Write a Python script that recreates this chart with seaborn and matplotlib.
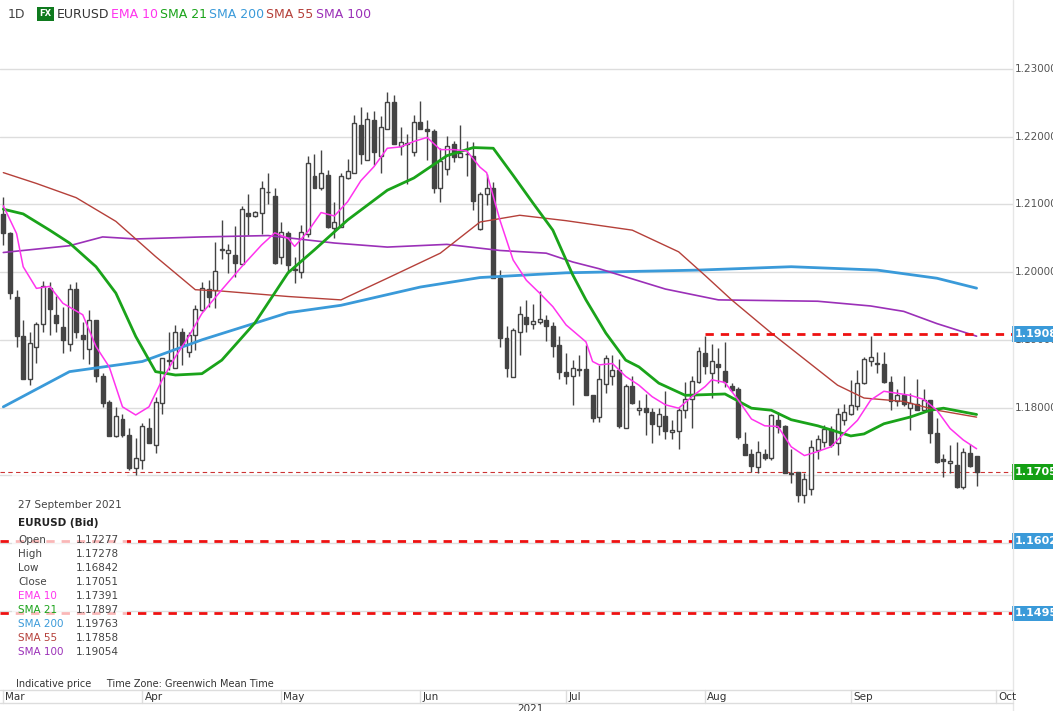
import numpy as np
import pandas as pd
import matplotlib
matplotlib.use("Agg")
import matplotlib.pyplot as plt
import seaborn as sns

# velas diarias EURUSD (mar-sep 2021)
abre = [1.2086,1.2058,1.1963,1.1906,1.1842,1.1889,1.1924,1.1977,1.1937,1.1919,
        1.1894,1.1975,1.1907,1.1886,1.1929,1.1846,1.1808,1.1758,1.1783,1.1759,
        1.1710,1.1723,1.1769,1.1745,1.1806,1.1868,1.1858,1.1912,1.1882,1.1907,
        1.1944,1.1975,1.1974,1.2033,1.2028,1.2025,1.2012,1.2087,1.2083,1.2087,
        1.2119,1.2112,1.2023,1.2058,1.2004,1.2000,1.2057,1.2142,1.2125,1.2143,
        1.2065,1.2067,1.2139,1.2146,1.2218,1.2166,1.2225,1.2171,1.2211,1.2251,
        1.2186,1.2190,1.2177,1.2222,1.2211,1.2209,1.2124,1.2153,1.2189,1.2170,
        1.2175,1.2171,1.2063,1.2116,1.2124,1.1991,1.1902,1.1845,1.1912,1.1933,
        1.1923,1.1927,1.1929,1.1920,1.1892,1.1852,1.1846,1.1857,1.1857,1.1819,
        1.1786,1.1835,1.1847,1.1856,1.1769,1.1832,1.1797,1.1799,1.1793,1.1773,
        1.1787,1.1764,1.1765,1.1797,1.1812,1.1838,1.1881,1.1851,1.1864,1.1854,
        1.1832,1.1827,1.1746,1.1731,1.1712,1.1732,1.1725,1.1781,1.1773,1.1703,
        1.1705,1.1671,1.1679,1.1737,1.1749,1.1768,1.1747,1.1782,1.1791,1.1802,
        1.1836,1.1869,1.1866,1.1865,1.1838,1.1809,1.1818,1.1799,1.1805,1.1797,
        1.1811,1.1762,1.1724,1.1718,1.1715,1.1682,1.1733,1.1728]
maximo = [1.2111,1.2060,1.1974,1.1929,1.1912,1.1927,1.1987,1.1986,1.1964,1.1949,
          1.1982,1.1986,1.1927,1.1944,1.1930,1.1851,1.1811,1.1801,1.1790,1.1769,
          1.1755,1.1777,1.1784,1.1815,1.1873,1.1912,1.1922,1.1917,1.1912,1.1952,
          1.1985,1.1989,1.2045,1.2077,1.2041,1.2068,1.2098,1.2115,1.2091,1.2134,
          1.2147,1.2124,1.2074,1.2061,1.2023,1.2070,1.2171,1.2175,1.2180,1.2151,
          1.2103,1.2146,1.2167,1.2232,1.2244,1.2237,1.2238,1.2230,1.2266,1.2262,
          1.2215,1.2204,1.2232,1.2253,1.2225,1.2212,1.2184,1.2201,1.2193,1.2217,
          1.2194,1.2192,1.2119,1.2145,1.2133,1.2003,1.1920,1.1917,1.1950,1.1959,
          1.1953,1.1972,1.1937,1.1926,1.1906,1.1880,1.1870,1.1878,1.1892,1.1819,
          1.1863,1.1878,1.1878,1.1871,1.1835,1.1846,1.1811,1.1820,1.1800,1.1800,
          1.1825,1.1782,1.1799,1.1838,1.1847,1.1890,1.1906,1.1894,1.1888,1.1897,
          1.1836,1.1831,1.1764,1.1738,1.1751,1.1738,1.1791,1.1794,1.1774,1.1738,
          1.1705,1.1703,1.1752,1.1760,1.1774,1.1773,1.1799,1.1805,1.1841,1.1855,
          1.1875,1.1906,1.1882,1.1882,1.1847,1.1827,1.1847,1.1822,1.1842,1.1828,
          1.1811,1.1784,1.1731,1.1745,1.1749,1.1740,1.1746,1.1728]
minimo = [1.2040,1.1960,1.1890,1.1842,1.1833,1.1866,1.1912,1.1907,1.1912,1.1880,
          1.1883,1.1902,1.1871,1.1865,1.1838,1.1801,1.1758,1.1757,1.1757,1.1708,
          1.1700,1.1709,1.1748,1.1733,1.1791,1.1855,1.1858,1.1863,1.1875,1.1885,
          1.1943,1.1949,1.1947,1.2020,1.1998,1.1993,1.2012,1.2055,1.2082,1.2057,
          1.2101,1.2012,1.2012,1.1998,1.1984,1.1991,1.2052,1.2124,1.2122,1.2065,
          1.2050,1.2067,1.2137,1.2146,1.2160,1.2165,1.2158,1.2146,1.2211,1.2190,
          1.2173,1.2130,1.2171,1.2211,1.2166,1.2117,1.2103,1.2143,1.2163,1.2170,
          1.2142,1.2092,1.2062,1.2099,1.1992,1.1889,1.1845,1.1845,1.1878,1.1912,
          1.1916,1.1924,1.1898,1.1875,1.1842,1.1835,1.1804,1.1846,1.1818,1.1778,
          1.1779,1.1821,1.1833,1.1769,1.1769,1.1805,1.1789,1.1760,1.1748,1.1760,
          1.1754,1.1754,1.1738,1.1784,1.1769,1.1836,1.1850,1.1814,1.1836,1.1830,
          1.1823,1.1754,1.1730,1.1705,1.1703,1.1722,1.1723,1.1762,1.1703,1.1688,
          1.1661,1.1659,1.1671,1.1724,1.1742,1.1742,1.1730,1.1774,1.1789,1.1796,
          1.1835,1.1862,1.1851,1.1836,1.1797,1.1802,1.1802,1.1767,1.1796,1.1796,
          1.1747,1.1718,1.1697,1.1703,1.1681,1.1679,1.1712,1.1684]
cierre = [1.2058,1.1969,1.1905,1.1842,1.1896,1.1924,1.1980,1.1946,1.1925,1.1900,
          1.1975,1.1911,1.1901,1.1929,1.1847,1.1806,1.1758,1.1788,1.1759,1.1710,
          1.1725,1.1773,1.1748,1.1808,1.1873,1.1870,1.1912,1.1892,1.1907,1.1945,
          1.1976,1.1963,1.2001,1.2034,1.2032,1.2013,1.2093,1.2083,1.2089,1.2124,
          1.2118,1.2013,1.2060,1.2010,1.2003,1.2060,1.2161,1.2125,1.2146,1.2067,
          1.2074,1.2142,1.2149,1.2221,1.2174,1.2226,1.2178,1.2214,1.2251,1.2190,
          1.2192,1.2190,1.2222,1.2212,1.2208,1.2125,1.2164,1.2187,1.2170,1.2176,
          1.2174,1.2105,1.2116,1.2124,1.1992,1.1902,1.1858,1.1915,1.1938,1.1923,
          1.1928,1.1931,1.1920,1.1891,1.1853,1.1846,1.1859,1.1855,1.1819,1.1785,
          1.1842,1.1873,1.1856,1.1772,1.1832,1.1806,1.1800,1.1794,1.1776,1.1790,
          1.1766,1.1767,1.1797,1.1813,1.1839,1.1883,1.1862,1.1868,1.1860,1.1838,
          1.1826,1.1756,1.1730,1.1714,1.1734,1.1725,1.1789,1.1771,1.1703,1.1702,
          1.1671,1.1694,1.1742,1.1754,1.1768,1.1745,1.1791,1.1794,1.1804,1.1836,
          1.1871,1.1874,1.1864,1.1837,1.1809,1.1819,1.1805,1.1806,1.1797,1.1811,
          1.1763,1.1719,1.1721,1.1721,1.1683,1.1734,1.1714,1.17051]

# medias moviles (indice de vela, valor)
ema10_i = [0,2,3,5,7,9,12,14,16,18,20,22,24,26,28,30,33,36,39,41,43,44,46,48,50,52,54,56,58,60,62,64,66,68,70,72,73,75,77,79,81,83,85,88,89,90,92,94,96,98,100,102,104,106,107,109,111,113,115,117,119,121,123,125,127,129,131,133,135,137,139,141,143,145,147]
ema10_v = [1.2098,1.2057,1.2008,1.1976,1.1979,1.1954,1.1937,1.1890,1.1860,1.1801,1.1789,1.1801,1.1841,1.1875,1.1905,1.1939,1.1974,1.2008,1.2040,1.2058,1.2050,1.2038,1.2060,1.2088,1.2083,1.2104,1.2135,1.2156,1.2183,1.2185,1.2193,1.2199,1.2181,1.2181,1.2179,1.2155,1.2147,1.2077,1.2018,1.1988,1.1969,1.1949,1.1922,1.1897,1.1868,1.1863,1.1865,1.1846,1.1833,1.1816,1.1804,1.1799,1.1816,1.1831,1.1841,1.1837,1.1811,1.1783,1.1773,1.1772,1.1742,1.1729,1.1735,1.1742,1.1762,1.1781,1.1811,1.1824,1.1821,1.1818,1.1812,1.1796,1.1769,1.1752,1.17391]
sma21_i = [0,3,7,10,14,17,20,23,26,30,33,38,43,47,52,58,62,67,71,74,77,80,83,86,88,91,94,96,99,103,109,113,116,119,123,128,130,133,137,140,142,147]
sma21_v = [1.2093,1.2086,1.2062,1.2043,1.2008,1.1969,1.1905,1.1853,1.1848,1.1850,1.1870,1.1925,1.1999,1.2033,1.2077,1.2121,1.2139,1.2172,1.2184,1.2183,1.2143,1.2102,1.2062,1.1996,1.1959,1.1910,1.1870,1.1860,1.1836,1.1818,1.1820,1.1799,1.1796,1.1782,1.1773,1.1758,1.1761,1.1776,1.1786,1.1796,1.1799,1.17897]
sma200_i = [0,10,21,30,43,51,63,72,85,105,119,132,141,147]
sma200_v = [1.1801,1.1853,1.1868,1.1900,1.1940,1.1951,1.1978,1.1992,1.1999,1.2003,1.2008,1.2003,1.1991,1.19763]
sma55_i = [0,5,11,17,23,29,33,43,51,58,66,72,78,85,95,102,106,110,116,126,130,136,141,147]
sma55_v = [1.2147,1.2131,1.2110,1.2075,1.2023,1.1974,1.1972,1.1964,1.1959,1.1991,1.2028,1.2074,1.2084,1.2076,1.2062,1.2030,1.1995,1.1959,1.1910,1.1833,1.1814,1.1809,1.1796,1.17858]
sma100_i = [0,10,15,20,30,40,50,58,67,75,82,86,90,100,108,123,131,136,141,147]
sma100_v = [1.2029,1.2039,1.2052,1.2049,1.2052,1.2054,1.2043,1.2037,1.2041,1.2032,1.2028,1.2015,1.2005,1.1975,1.1959,1.1957,1.1950,1.1942,1.1924,1.19054]

meses = ["Mar", "Apr", "May", "Jun", "Jul", "Aug", "Sep", "Oct"]
meses_pos = [0, 21, 42, 63, 85, 106, 128, 150]
niveles_y = [1.18, 1.19, 1.20, 1.21, 1.22, 1.23]
niveles_rojos = [1.16025, 1.14958]
resistencia = 1.19087
ultimo = 1.17051

sns.set_style("white")
plt.rcParams['font.family'] = ['DejaVu Sans']

fig = plt.figure(figsize=(10.53, 7.11), dpi=100)
ax = fig.add_axes([0, 21/711, 1013/1053, 690/711])
ax.set_xlim(-0.5, 152.5)
ax.set_ylim(1.13827, 1.2402)

for y in niveles_y + [1.17, 1.16, 1.15]:
    ax.axhline(y, color="#dddddd", lw=1, zorder=0)

df = pd.DataFrame({"o": abre, "h": maximo, "l": minimo, "c": cierre})
df["i"] = np.arange(len(df))
sube = df["c"] >= df["o"]
ax.vlines(df["i"], df["l"], df["h"], color="#444444", lw=1, zorder=2)
ax.bar(df["i"][sube], (df["c"] - df["o"])[sube].clip(lower=0.00008), bottom=df["o"][sube],
       width=0.6, color="white", edgecolor="#444444", lw=1, zorder=3)
ax.bar(df["i"][~sube], (df["o"] - df["c"])[~sube].clip(lower=0.00008), bottom=df["c"][~sube],
       width=0.6, color="#444444", edgecolor="#444444", lw=1, zorder=3)

lineas = [(sma200_i, sma200_v, "#3a9ad9", 2.0), (sma100_i, sma100_v, "#9b30b8", 1.2),
          (sma55_i, sma55_v, "#b5403a", 1.0), (sma21_i, sma21_v, "#1aa31a", 2.0),
          (ema10_i, ema10_v, "#ff33ee", 1.1)]
for xi, yv, col, w in lineas:
    sns.lineplot(x=xi, y=yv, ax=ax, color=col, lw=w, zorder=4)

ax.plot([106, 152.5], [resistencia, resistencia], color="#ee1111", lw=2, ls=(0, (3, 2.5)), zorder=5)
for y in niveles_rojos:
    ax.axhline(y, color="#ee1111", lw=2, ls=(0, (3, 2.5)), zorder=5)
ax.axhline(ultimo, color="#cc3333", lw=0.8, ls=(0, (4, 3)), zorder=1)

for s in ax.spines.values():
    s.set_visible(False)
ax.set_xticks([])
ax.set_yticks([])

# eje derecho
tr = ax.get_yaxis_transform()
for y in niveles_y:
    ax.text(1.0015, y, f"{y:.5f}", transform=tr, va="center", ha="left", fontsize=7.5, color="#555555")
for y in niveles_rojos + [resistencia]:
    ax.text(1.0015, y, f"{y:.5f}", transform=tr, va="center", ha="left", fontsize=8,
            color="white", fontweight="bold", clip_on=False, zorder=7,
            bbox=dict(boxstyle="square,pad=0.25", fc="#3a9ad9", ec="none"))
ax.text(1.0015, ultimo, f"{ultimo:.5f}", transform=tr, va="center", ha="left", fontsize=8,
        color="white", fontweight="bold", zorder=7, bbox=dict(boxstyle="square,pad=0.25", fc="#14a014", ec="none"))
fig.add_artist(plt.Line2D([1013/1053]*2, [0, 1], color="#e6e6e6", lw=1))

# eje de meses
fig.add_artist(plt.Line2D([0, 1013/1053], [21/711]*2, color="#dddddd", lw=1))
fig.add_artist(plt.Line2D([0, 1013/1053], [8/711]*2, color="#dddddd", lw=1))
for m, p in zip(meses, meses_pos):
    xf = (p + 0.5) / 153 * 1013 / 1053
    fig.add_artist(plt.Line2D([xf, xf], [8/711, 21/711], color="#dddddd", lw=1))
    fig.text(xf + 0.002, 14.5/711, m, fontsize=7.5, color="#333333", va="center")
fig.text(530/1053, 2/711, "2021", fontsize=7.5, color="#333333", ha="center", va="center")

# cabecera
fig.text(8/1053, 1 - 14/711, "1D", fontsize=9, color="#444444", va="center")
fig.text(39/1053, 1 - 14/711, "FX", fontsize=6, color="white", fontweight="bold", va="center",
         bbox=dict(boxstyle="square,pad=0.3", fc="#0f7a1e", ec="none"))
cab = [("EURUSD", "#333333", 57), ("EMA 10", "#ff33ee", 111), ("SMA 21", "#1aa31a", 160),
       ("SMA 200", "#3a9ad9", 209), ("SMA 55", "#b5403a", 266), ("SMA 100", "#9b30b8", 316)]
for t, c, x in cab:
    fig.text(x/1053, 1 - 14/711, t, fontsize=9, color=c, va="center")

# panel de informacion (fondo semitransparente sobre el grafico)
ax.add_patch(plt.Rectangle((12/1013, 52/690), 115/1013, 165/690, transform=ax.transAxes,
                           fc="white", alpha=0.7, ec="none", zorder=6))
fig.text(18/1053, 1 - 505/711, "27 September 2021", fontsize=7.5, color="#444444", va="center")
fig.text(18/1053, 1 - 523/711, "EURUSD (Bid)", fontsize=7.5, color="#222222", fontweight="bold", va="center")
filas = [("Open", "1.17277", "#444444"), ("High", "1.17278", "#444444"), ("Low", "1.16842", "#444444"),
         ("Close", "1.17051", "#444444"), ("EMA 10", "1.17391", "#ff33ee"), ("SMA 21", "1.17897", "#1aa31a"),
         ("SMA 200", "1.19763", "#3a9ad9"), ("SMA 55", "1.17858", "#b5403a"), ("SMA 100", "1.19054", "#9b30b8")]
for k, (n, v, c) in enumerate(filas):
    yy = 1 - (540 + k * 14) / 711
    fig.text(18/1053, yy, n, fontsize=7.5, color=c, va="center")
    fig.text(119/1053, yy, v, fontsize=7.5, color="#444444", va="center", ha="right")
fig.text(16/1053, 1 - 684/711, "Indicative price     Time Zone: Greenwich Mean Time", fontsize=7,
         color="#333333", va="center")

fig.savefig("out.png", dpi=100)
